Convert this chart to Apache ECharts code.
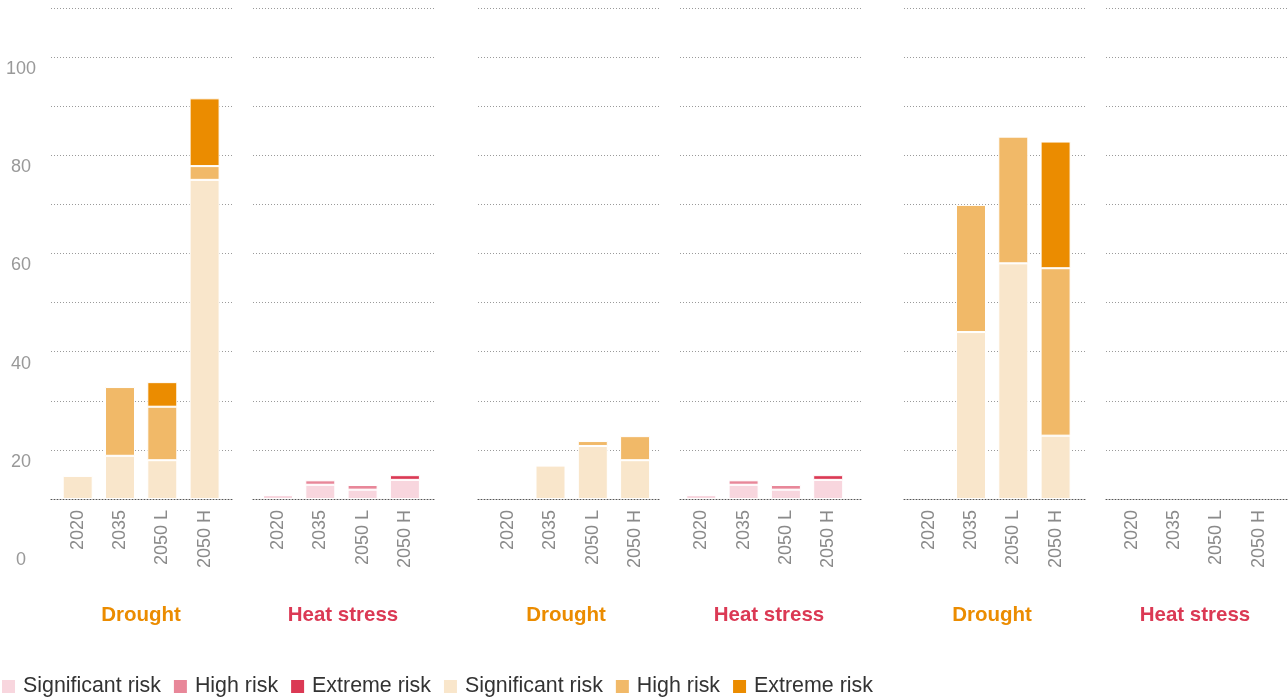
<!DOCTYPE html>
<html>
<head>
<meta charset="utf-8">
<script src="https://cdn.jsdelivr.net/npm/echarts@6/dist/echarts.min.js"></script>
<style>
  html, body { margin: 0; padding: 0; background: #fff; }
  #chart { width: 1288px; height: 698px; }
</style>
</head>
<body>
<div id="chart"></div>
<script>
// ---- data ----
const categories = ['2020', '2035', '2050 L', '2050 H'];
const panelTitles = ['Drought', 'Heat stress', 'Drought', 'Heat stress', 'Drought', 'Heat stress'];
const legendLabels = ['Significant risk', 'High risk', 'Extreme risk', 'Significant risk', 'High risk', 'Extreme risk'];

// Panel 1 – Drought
const drought1Significant = [4.7, 8.8, 7.9, 65.0];
const drought1High        = [null, 14.0, 10.9, 2.8];
const drought1Extreme     = [null, null, 5.0, 13.8];
// Panel 2 – Heat stress
const heat1Significant = [0.8, 2.9, 1.9, 3.9];
const heat1High        = [null, 0.9, 0.95, null];
const heat1Extreme     = [null, null, null, 0.95];
// Panel 3 – Drought
const drought2Significant = [null, 6.8, 10.8, 7.9];
const drought2High        = [null, null, 1.0, 4.9];
const drought2Extreme     = [null, null, null, null];
// Panel 4 – Heat stress
const heat2Significant = [0.8, 2.9, 1.9, 3.9];
const heat2High        = [null, 0.9, 0.95, null];
const heat2Extreme     = [null, null, null, 0.95];
// Panel 5 – Drought
const drought3Significant = [null, 34.0, 48.0, 12.9];
const drought3High        = [null, 25.9, 25.8, 34.1];
const drought3Extreme     = [null, null, null, 25.8];
// Panel 6 – Heat stress
const heat3Significant = [null, null, null, null];
const heat3High        = [null, null, null, null];
const heat3Extreme     = [null, null, null, null];

// ---- layout & style ----
const FONT = '"Liberation Sans", Arial, Helvetica, sans-serif';
const droughtColors = ['#F9E6CB', '#F1B968', '#EB8C00'];
const heatColors = ['#F8D6DE', '#E88799', '#DB3954'];
const titleColors = { drought: '#EB8C00', heat: '#DB3954' };
const seriesKeys = { heat: ['hSig', 'hHigh', 'hExt'], drought: ['dSig', 'dHigh', 'dExt'] };
const legendKeys = ['hSig', 'hHigh', 'hExt', 'dSig', 'dHigh', 'dExt'];

const panels = [
  { kind: 'drought', data: [drought1Significant, drought1High, drought1Extreme] },
  { kind: 'heat',    data: [heat1Significant, heat1High, heat1Extreme] },
  { kind: 'drought', data: [drought2Significant, drought2High, drought2Extreme] },
  { kind: 'heat',    data: [heat2Significant, heat2High, heat2Extreme] },
  { kind: 'drought', data: [drought3Significant, drought3High, drought3Extreme] },
  { kind: 'heat',    data: [heat3Significant, heat3High, heat3Extreme] }
];
const panelLefts = [51, 253, 478, 680, 904, 1106];
const panelWidth = 181;
const firstBarCenters = [77.7, 278, 508.2, 701.3, 928.7, 1131.7];
const catWidth = 42.3;
const titleCenters = [141, 343, 566, 769, 992, 1195];
const PLOT_TOP = 8, PLOT_H = 491;

const grid = [], xAxis = [], yAxis = [], series = [], title = [];

panels.forEach((p, i) => {
  // gridline grid
  const gi = grid.length;
  grid.push({ left: panelLefts[i], top: PLOT_TOP, width: panelWidth, height: PLOT_H });
  xAxis.push({
    gridIndex: gi, type: 'value', min: 0, max: 1,
    axisLine: { show: true, lineStyle: { color: '#555', type: [1, 2], width: 1 } },
    axisTick: { show: false }, axisLabel: { show: false }, splitLine: { show: false }
  });
  yAxis.push({
    gridIndex: gi, type: 'value', min: 0, max: 100, interval: 10,
    axisLine: { show: false }, axisTick: { show: false }, axisLabel: { show: false },
    splitLine: { show: true, lineStyle: { color: '#9a9a9a', type: [1, 2], width: 1 } }
  });
  // bar grid
  const bi = grid.length;
  grid.push({ left: firstBarCenters[i] - catWidth / 2, top: PLOT_TOP, width: catWidth * 4, height: PLOT_H });
  xAxis.push({
    gridIndex: bi, type: 'category', data: categories,
    axisLine: { show: false }, axisTick: { show: false },
    axisLabel: { rotate: 90, margin: 11, color: '#8a8a8a', fontSize: 18, fontFamily: FONT }
  });
  yAxis.push({
    gridIndex: bi, type: 'value', min: 0, max: 100, show: false, splitLine: { show: false }
  });
  const colors = p.kind === 'drought' ? droughtColors : heatColors;
  p.data.forEach((arr, k) => {
    series.push({
      type: 'bar', name: seriesKeys[p.kind][k], xAxisIndex: bi, yAxisIndex: bi,
      stack: 'panel' + i, barWidth: 30, data: arr, z: 3,
      itemStyle: { color: colors[k], borderColor: '#fff', borderWidth: 1 },
      emphasis: { disabled: true }, animation: false
    });
  });
  title.push({
    text: panelTitles[i], left: titleCenters[i], top: 605, textAlign: 'center', padding: 0,
    textStyle: { fontSize: 20.5, fontWeight: 'bold', fontFamily: FONT, color: titleColors[p.kind] }
  });
});

// y-axis label grid (labels sit shifted below the gridlines, as in the original)
const li = grid.length;
grid.push({ left: 51, top: 69, width: 1, height: PLOT_H });
xAxis.push({ gridIndex: li, type: 'value', show: false });
yAxis.push({
  gridIndex: li, type: 'value', min: 0, max: 100, interval: 20,
  axisLine: { show: false }, axisTick: { show: false }, splitLine: { show: false },
  axisLabel: { align: 'center', margin: 30, color: '#999', fontSize: 18, fontFamily: FONT }
});

const legendMap = {};
legendKeys.forEach((k, i) => { legendMap[k] = legendLabels[i]; });

const chart = echarts.init(document.getElementById('chart'), null, { renderer: 'canvas' });
chart.setOption({
  animation: false,
  backgroundColor: '#fff',
  title: title,
  legend: {
    data: legendKeys, left: 0, top: 676, padding: 0,
    icon: 'rect', itemWidth: 15, itemHeight: 15, itemGap: 11,
    selectedMode: false,
    formatter: (n) => legendMap[n],
    textStyle: { fontSize: 21.4, color: '#333', fontFamily: FONT, padding: [0, 0, 0, 2] }
  },
  grid: grid, xAxis: xAxis, yAxis: yAxis, series: series
});
</script>
</body>
</html>
